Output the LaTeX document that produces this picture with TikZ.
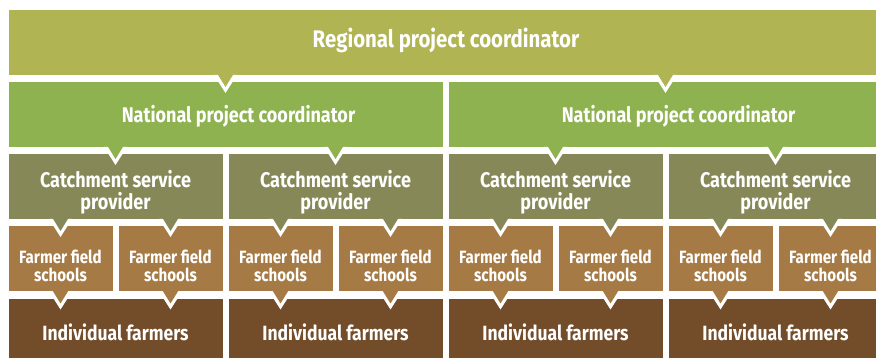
\documentclass[tikz,border=0pt]{standalone}
\usepackage{fontspec}
\setmainfont{Fira Sans}[FakeStretch=0.85]
\usetikzlibrary{positioning, calc}

\definecolor{regcol}{RGB}{176,180,83}
\definecolor{natcol}{RGB}{141,178,79}
\definecolor{cspcol}{RGB}{134,137,87}
\definecolor{ffscol}{RGB}{166,122,69}
\definecolor{farmcol}{RGB}{115,76,41}

\begin{document}
\begin{tikzpicture}[
    x=1pt, y=1pt,
    box/.style={rectangle, inner sep=0pt, outer sep=0pt, text=white},
    regbox/.style={box, fill=regcol, minimum width=875pt, minimum height=65pt, font=\bfseries\fontsize{24}{26}\selectfont, text height=11pt, text depth=0pt},
    natbox/.style={box, fill=natcol, minimum width=434pt, minimum height=64.5pt, font=\bfseries\fontsize{21.2}{22}\selectfont, text height=16pt, text depth=0pt, execute at begin node={\hspace*{26pt}}},
    cspbox/.style={box, fill=cspcol, minimum width=214pt, minimum height=64.5pt, align=center, font=\bfseries\fontsize{21.2}{22}\selectfont, text height=50.5pt, text depth=4pt},
    ffsbox/.style={box, fill=ffscol, minimum width=104pt, minimum height=65pt, align=center, font=\bfseries\fontsize{17.8}{18.4}\selectfont, text height=45pt, text depth=0pt},
    farmbox/.style={box, fill=farmcol, minimum width=214pt, minimum height=65pt, font=\bfseries\fontsize{20.6}{22}\selectfont, text height=17pt, text depth=0pt}
]
    \useasboundingbox (0,0) rectangle (876,-358);
    \clip (0,0) rectangle (876,-358);

    \node[regbox, anchor=north west] (reg) at (8.5,-10) {Regional project coordinator};

    \node[natbox, below right=7.5pt and 0pt of reg.south west] (nat1) {National project coordinator};
    \node[natbox, right=6pt of nat1] (nat2) {National project coordinator};

    \node[cspbox, below right=7.5pt and 0pt of nat1.south west] (csp1) {Catchment service\\provider};
    \node[cspbox, right=6pt of csp1] (csp2) {Catchment service\\provider};
    \node[cspbox, below right=7.5pt and 0pt of nat2.south west] (csp3) {Catchment service\\provider};
    \node[cspbox, right=6pt of csp3] (csp4) {Catchment service\\provider};

    \foreach \c/\f in {1/1, 2/3, 3/5, 4/7} {
        \node[ffsbox, below right=7.5pt and 0pt of csp\c.south west] (ffs\f) {Farmer field\\schools};
    }
    \foreach \f/\g in {1/2, 3/4, 5/6, 7/8} {
        \node[ffsbox, right=6pt of ffs\f] (ffs\g) {Farmer field\\schools};
    }

    \foreach \f/\i in {1/1, 3/2, 5/3, 7/4} {
        \node[farmbox, below right=7.5pt and 0pt of ffs\f.south west] (farm\i) {Individual farmers};
    }

    % notches pointing from each box into the one below
    \foreach \p/\c/\a/\col in {reg/nat1/nat1/regcol, reg/nat2/nat2/regcol,
        nat1/csp1/csp1/natcol, nat1/csp2/csp2/natcol, nat2/csp3/csp3/natcol, nat2/csp4/csp4/natcol,
        csp1/ffs1/ffs1/cspcol, csp1/ffs2/ffs2/cspcol, csp2/ffs3/ffs3/cspcol, csp2/ffs4/ffs4/cspcol,
        csp3/ffs5/ffs5/cspcol, csp3/ffs6/ffs6/cspcol, csp4/ffs7/ffs7/cspcol, csp4/ffs8/ffs8/cspcol,
        ffs1/farm1/ffs1/ffscol, ffs2/farm1/ffs2/ffscol, ffs3/farm2/ffs3/ffscol, ffs4/farm2/ffs4/ffscol,
        ffs5/farm3/ffs5/ffscol, ffs6/farm3/ffs6/ffscol, ffs7/farm4/ffs7/ffscol, ffs8/farm4/ffs8/ffscol} {
        \coordinate (tip) at (\a.center |- \p.south);
        \fill[white] ($(tip)+(-11.5,0)$) -- ($(tip)+(11.5,0)$) -- ($(tip)+(0,-18)$) -- cycle;
        \fill[\col] ($(tip)+(-8,1)$) -- ($(tip)+(8,1)$) -- ($(tip)+(0,-12)$) -- cycle;
    }
\end{tikzpicture}
\end{document}
